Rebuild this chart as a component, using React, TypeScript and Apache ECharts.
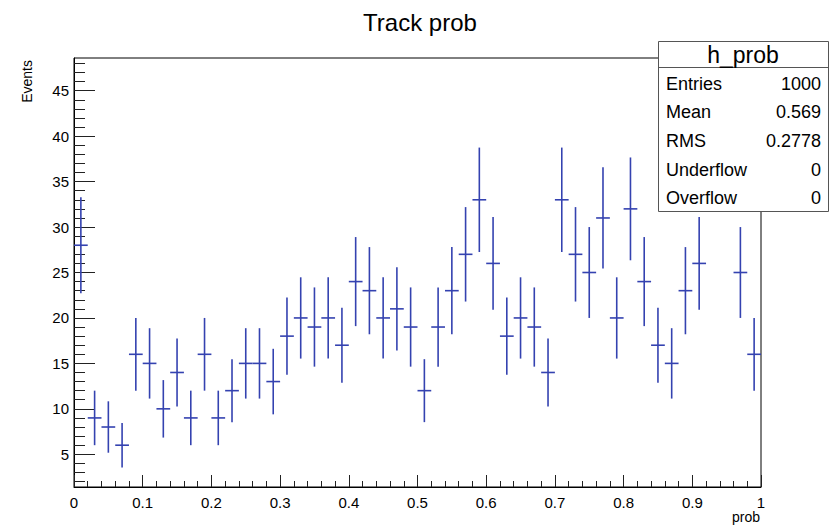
import React, { useEffect, useRef } from "react";
import * as echarts from "echarts";

// bin centres (50 bins of width 0.02 on [0,1])
const binCenters = [
  0.01, 0.03, 0.05, 0.07, 0.09, 0.11, 0.13, 0.15, 0.17, 0.19,
  0.21, 0.23, 0.25, 0.27, 0.29, 0.31, 0.33, 0.35, 0.37, 0.39,
  0.41, 0.43, 0.45, 0.47, 0.49, 0.51, 0.53, 0.55, 0.57, 0.59,
  0.61, 0.63, 0.65, 0.67, 0.69, 0.71, 0.73, 0.75, 0.77, 0.79,
  0.81, 0.83, 0.85, 0.87, 0.89, 0.91, 0.93, 0.95, 0.97, 0.99,
];
// counts per bin (0.93 and 0.95 are hidden behind the stats box; estimated)
const counts = [
  28, 9, 8, 6, 16, 15, 10, 14, 9, 16,
  9, 12, 15, 15, 13, 18, 20, 19, 20, 17,
  24, 23, 20, 21, 19, 12, 19, 23, 27, 33,
  26, 18, 20, 19, 14, 33, 27, 25, 31, 20,
  32, 24, 17, 15, 23, 26, 40, 39, 25, 16,
];
const binHalfWidth = 0.01;

const yMajorTicks = [5, 10, 15, 20, 25, 30, 35, 40, 45];
const yMinorTicks = [
  2, 3, 4, 6, 7, 8, 9, 11, 12, 13, 14, 16, 17, 18, 19, 21, 22, 23, 24,
  26, 27, 28, 29, 31, 32, 33, 34, 36, 37, 38, 39, 41, 42, 43, 44, 46, 47, 48,
];

const statsTitle = "h_prob";
const statsLabels = ["Entries", "Mean", "RMS", "Underflow", "Overflow"];
const statsValues = ["1000", "0.569", "0.2778", "0", "0"];

const FONT = "Liberation Sans, Arial, Helvetica, sans-serif";

export default function App() {
  const ref = useRef<HTMLDivElement>(null);

  useEffect(() => {
    if (!ref.current) return;
    const chart = echarts.init(ref.current, undefined, { renderer: "svg" });

    const data = binCenters.map((x, i) => [x, counts[i], Math.sqrt(counts[i])]);

    const statsGraphics: any[] = [
      {
        type: "rect",
        z: 100,
        shape: { x: 658.5, y: 41.5, width: 170, height: 170 },
        style: { fill: "#fff", stroke: "#555", lineWidth: 1 },
      },
      {
        type: "line",
        z: 101,
        shape: { x1: 658.5, y1: 67.5, x2: 828.5, y2: 67.5 },
        style: { stroke: "#555", lineWidth: 1 },
      },
      {
        type: "text",
        z: 101,
        x: 743,
        y: 55,
        style: {
          text: statsTitle,
          font: `23px ${FONT}`,
          fill: "#000",
          align: "center",
          verticalAlign: "middle",
        },
      },
    ];
    statsLabels.forEach((lab, i) => {
      const yy = 83.5 + i * 28.7;
      statsGraphics.push({
        type: "text",
        z: 101,
        x: 666,
        y: yy,
        style: { text: lab, font: `18px ${FONT}`, fill: "#000", align: "left", verticalAlign: "middle" },
      });
      statsGraphics.push({
        type: "text",
        z: 101,
        x: 821,
        y: yy,
        style: { text: statsValues[i], font: `18px ${FONT}`, fill: "#000", align: "right", verticalAlign: "middle" },
      });
    });

    chart.setOption({
      animation: false,
      backgroundColor: "#fff",
      grid: {
        left: 74,
        right: 72,
        top: 58,
        bottom: 38,
        show: true,
        borderColor: "#000",
        borderWidth: 1,
        backgroundColor: "transparent",
      },
      xAxis: {
        type: "value",
        min: 0,
        max: 1,
        interval: 0.1,
        axisLine: { show: true, onZero: false, lineStyle: { color: "#000", width: 1 } },
        axisTick: { show: true, inside: true, length: 12, lineStyle: { color: "#222", width: 1 } },
        minorTick: { show: true, splitNumber: 5, length: 6, lineStyle: { color: "#222", width: 1 } },
        splitLine: { show: false },
        axisLabel: {
          color: "#000",
          fontSize: 15,
          fontFamily: FONT,
          margin: 8,
          formatter: (v: number) => String(Math.round(v * 10) / 10),
        },
      },
      yAxis: [
        {
          type: "value",
          min: 1.4,
          max: 48.6,
          axisLine: { show: true, onZero: false, lineStyle: { color: "#000", width: 1 } },
          axisTick: {
            show: true,
            inside: true,
            length: 21,
            customValues: yMajorTicks,
            lineStyle: { color: "#222", width: 1 },
          },
          splitLine: { show: false },
          axisLabel: {
            color: "#000",
            fontSize: 15,
            fontFamily: FONT,
            margin: 5,
            customValues: yMajorTicks,
          },
        },
        {
          type: "value",
          min: 1.4,
          max: 48.6,
          position: "left",
          axisLine: { show: false },
          axisTick: {
            show: true,
            inside: true,
            length: 11,
            customValues: yMinorTicks,
            lineStyle: { color: "#222", width: 1 },
          },
          splitLine: { show: false },
          axisLabel: { show: false },
        },
      ],
      graphic: [
        {
          type: "text",
          x: 420,
          y: 22,
          style: {
            text: "Track prob",
            font: `24px ${FONT}`,
            fill: "#000",
            align: "center",
            verticalAlign: "middle",
          },
        },
        {
          type: "text",
          x: 27,
          y: 60,
          rotation: Math.PI / 2,
          style: {
            text: "Events",
            font: `14px ${FONT}`,
            fill: "#000",
            align: "right",
            verticalAlign: "middle",
          },
        },
        {
          type: "text",
          x: 760,
          y: 517,
          style: {
            text: "prob",
            font: `14px ${FONT}`,
            fill: "#000",
            align: "right",
            verticalAlign: "middle",
          },
        },
        ...statsGraphics,
      ],
      series: [
        {
          type: "custom",
          xAxisIndex: 0,
          yAxisIndex: 0,
          clip: true,
          data,
          renderItem: (_params: any, api: any) => {
            const x = api.value(0);
            const y = api.value(1);
            const e = api.value(2);
            const top = api.coord([x, y + e]);
            const bot = api.coord([x, y - e]);
            const l = api.coord([x - binHalfWidth, y]);
            const r = api.coord([x + binHalfWidth, y]);
            const style = { stroke: "#3442b0", lineWidth: 1.6 };
            return {
              type: "group",
              children: [
                { type: "line", shape: { x1: top[0], y1: top[1], x2: bot[0], y2: bot[1] }, style },
                { type: "line", shape: { x1: l[0], y1: l[1], x2: r[0], y2: r[1] }, style },
              ],
            };
          },
        },
      ],
    });

    return () => chart.dispose();
  }, []);

  return (
    <div
      ref={ref}
      style={{ position: "absolute", left: 0, top: 0, width: 833, height: 525 }}
    />
  );
}
